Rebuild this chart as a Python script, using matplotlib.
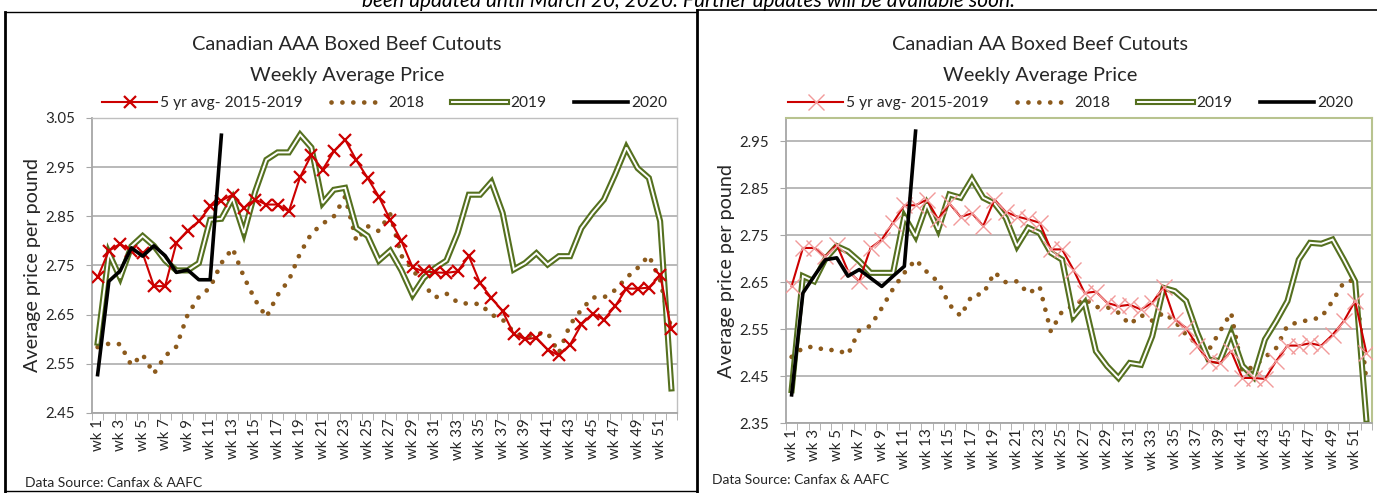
import matplotlib
matplotlib.use("Agg")
import matplotlib.pyplot as plt
from matplotlib.lines import Line2D
from matplotlib.legend_handler import HandlerTuple
import numpy as np

# ---------------------------
# Data
# ---------------------------
weeks = np.arange(1, 53)
week_labels = [f"wk {w}" for w in range(1, 53, 2)]

# Canadian AAA
aaa_avg5 = [2.726, 2.78, 2.794, 2.78, 2.775, 2.708, 2.708, 2.796, 2.821, 2.84,
            2.87, 2.882, 2.894, 2.867, 2.884, 2.874, 2.874, 2.86, 2.93, 2.975,
            2.945, 2.982, 3.006, 2.964, 2.928, 2.89, 2.843, 2.80, 2.746, 2.738,
            2.736, 2.735, 2.738, 2.769, 2.714, 2.684, 2.657, 2.61, 2.60, 2.603,
            2.579, 2.567, 2.589, 2.63, 2.652, 2.64, 2.667, 2.703, 2.703, 2.705,
            2.73, 2.62]
aaa_2018 = [2.584, 2.591, 2.59, 2.547, 2.569, 2.53, 2.566, 2.585, 2.65, 2.686,
            2.705, 2.755, 2.785, 2.727, 2.68, 2.645, 2.69, 2.72, 2.775, 2.815,
            2.835, 2.85, 2.89, 2.80, 2.83, 2.82, 2.855, 2.77, 2.742, 2.71,
            2.685, 2.693, 2.675, 2.672, 2.672, 2.65, 2.64, 2.614, 2.604, 2.611,
            2.613, 2.572, 2.63, 2.66, 2.685, 2.685, 2.70, 2.725, 2.745, 2.77,
            2.72, 2.62]
aaa_2019 = [2.593, 2.775, 2.725, 2.789, 2.81, 2.79, 2.76, 2.74, 2.74, 2.755,
            2.843, 2.845, 2.887, 2.816, 2.90, 2.965, 2.98, 2.98, 3.016, 2.99,
            2.877, 2.904, 2.908, 2.826, 2.81, 2.76, 2.78, 2.74, 2.69, 2.725,
            2.745, 2.76, 2.816, 2.894, 2.894, 2.92, 2.857, 2.742, 2.755, 2.775,
            2.752, 2.769, 2.769, 2.826, 2.857, 2.884, 2.935, 2.99, 2.948, 2.928,
            2.84, 2.50]
aaa_2020 = [2.528, 2.718, 2.739, 2.786, 2.769, 2.79, 2.77, 2.736, 2.741, 2.721,
            2.721, 3.015]

# Canadian AA
aa_avg5 = [2.642, 2.723, 2.723, 2.705, 2.73, 2.674, 2.652, 2.723, 2.741, 2.777,
           2.814, 2.814, 2.826, 2.784, 2.818, 2.789, 2.797, 2.77, 2.826, 2.80,
           2.79, 2.784, 2.777, 2.72, 2.72, 2.677, 2.627, 2.63, 2.606, 2.599,
           2.602, 2.592, 2.606, 2.64, 2.57, 2.553, 2.514, 2.482, 2.477, 2.503,
           2.446, 2.446, 2.444, 2.482, 2.515, 2.515, 2.52, 2.515, 2.538, 2.567,
           2.61, 2.50]
aa_2018 = [2.491, 2.51, 2.513, 2.505, 2.506, 2.496, 2.548, 2.557, 2.595, 2.636,
           2.67, 2.698, 2.672, 2.651, 2.602, 2.578, 2.622, 2.625, 2.671, 2.65,
           2.652, 2.626, 2.641, 2.545, 2.588, 2.60, 2.615, 2.597, 2.597, 2.585,
           2.56, 2.58, 2.568, 2.585, 2.567, 2.538, 2.518, 2.505, 2.545, 2.585,
           2.46, 2.47, 2.49, 2.51, 2.558, 2.565, 2.57, 2.575, 2.61, 2.65,
           2.655, 2.44]
aa_2019 = [2.42, 2.663, 2.652, 2.70, 2.727, 2.716, 2.695, 2.67, 2.67, 2.67,
           2.79, 2.748, 2.816, 2.762, 2.837, 2.83, 2.87, 2.83, 2.818, 2.787,
           2.727, 2.766, 2.755, 2.713, 2.698, 2.577, 2.606, 2.503, 2.471, 2.446,
           2.478, 2.474, 2.535, 2.638, 2.631, 2.61, 2.542, 2.485, 2.482, 2.542,
           2.472, 2.448, 2.528, 2.567, 2.61, 2.698, 2.734, 2.732, 2.741, 2.698,
           2.652, 2.357]
aa_2020 = [2.41, 2.627, 2.663, 2.698, 2.702, 2.663, 2.677, 2.659, 2.641, 2.663,
           2.684, 2.972]

aaa_yticks = [2.45, 2.55, 2.65, 2.75, 2.85, 2.95, 3.05]
aa_yticks = [2.35, 2.45, 2.55, 2.65, 2.75, 2.85, 2.95]

# ---------------------------
# Styles
# ---------------------------
plt.rcParams.update({
    "font.family": ["Lato", "DejaVu Sans"],
    "font.size": 10.5,
})

RED = "#cc0000"
BROWN = "#8c5a1c"
OLIVE = "#55701f"
TXT = "#262626"
GRID = "#a6a6a6"

W, H = 1377, 493
fig = plt.figure(figsize=(W / 100, H / 100), dpi=100)
fig.patch.set_facecolor("white")


def fx(px):
    return px / W


def fy(py):
    return 1 - py / H


def panel(ax, avg5, d2018, d2019, d2020, yticks, ylim, right=False):
    ax.grid(axis="y", color=GRID, linewidth=1.1, zorder=0)
    ax.set_axisbelow(True)

    if right:
        l_avg, = ax.plot(weeks, avg5, color=RED, lw=1.5, marker="x",
                         markersize=11, mec="#f29a9a", mew=1.0, zorder=3)
    else:
        l_avg, = ax.plot(weeks, avg5, color=RED, lw=1.5, marker="x",
                         markersize=8, mec=RED, mew=1.6, zorder=3)
    l_18, = ax.plot(weeks, d2018, color=BROWN, lw=3.4,
                    linestyle=(0, (0.01, 2.3)), dash_capstyle="round", zorder=2)
    g1, = ax.plot(weeks, d2019, color=OLIVE, lw=4.4, solid_joinstyle="miter", zorder=2)
    g2, = ax.plot(weeks, d2019, color="white", lw=1.4, solid_joinstyle="miter", zorder=2)
    l_20, = ax.plot(weeks[:len(d2020)], d2020, color="black", lw=2.6, zorder=4)

    ax.set_xlim(0.5, 52.5)
    ax.set_ylim(*ylim)
    ax.set_yticks(yticks)
    ax.set_yticklabels([f"{v:.2f}" for v in yticks])
    ax.set_xticks(np.arange(1, 53, 2))
    ax.set_xticklabels(week_labels, rotation=90)
    ax.set_xticks(np.arange(0.5, 53, 1), minor=True)
    ax.tick_params(axis="x", which="major", length=0, pad=4, labelsize=10.8, colors=TXT)
    ax.tick_params(axis="x", which="minor", length=5, color=GRID, direction="out")
    ax.tick_params(axis="y", length=4, color=GRID, labelsize=10.8, colors=TXT, pad=8)

    for s in ["left", "bottom"]:
        ax.spines[s].set_color(GRID)
        ax.spines[s].set_linewidth(1.3)
    if right:
        for s in ["top", "right"]:
            ax.spines[s].set_color("#b8c38f")
            ax.spines[s].set_linewidth(1.5)
    else:
        for s in ["top", "right"]:
            ax.spines[s].set_color("#bfbfbf")
            ax.spines[s].set_linewidth(1.0)

    ax.set_ylabel("Average price per pound", fontsize=14.2, color=TXT, labelpad=3)
    return [l_avg, l_18, (g1, g2), l_20]


labels = ["5 yr avg- 2015-2019", "2018", "2019", "2020"]
leg_kw = dict(loc="center", ncol=4, frameon=False, handlelength=3.5,
              handletextpad=0.2, columnspacing=1.8, fontsize=11.2,
              handler_map={tuple: HandlerTuple(ndivide=1)}, labelcolor=TXT)

# Left panel: AAA
ax1 = fig.add_axes([fx(92), fy(413), fx(677 - 92), (413 - 118) / H])
h1 = panel(ax1, aaa_avg5, aaa_2018, aaa_2019, aaa_2020, aaa_yticks, (2.45, 3.05))
fig.text(fx(347), fy(45), "Canadian AAA Boxed Beef Cutouts", fontsize=14.4,
         color=TXT, ha="center", va="center")
fig.text(fx(347), fy(75), "Weekly Average Price", fontsize=14.4,
         color=TXT, ha="center", va="center")
fig.legend(h1, labels, bbox_to_anchor=(fx(385), fy(103)), **leg_kw)
fig.text(fx(25), fy(483), "Data Source: Canfax & AAFC", fontsize=10,
         color=TXT, va="center", ha="left")

# Right panel: AA
ax2 = fig.add_axes([fx(786), fy(423), fx(1372 - 786), (423 - 118) / H])
h2 = panel(ax2, aa_avg5, aa_2018, aa_2019, aa_2020, aa_yticks, (2.35, 3.0), right=True)
fig.text(fx(1040), fy(45), "Canadian AA Boxed Beef Cutouts", fontsize=14.4,
         color=TXT, ha="center", va="center")
fig.text(fx(1040), fy(75), "Weekly Average Price", fontsize=14.4,
         color=TXT, ha="center", va="center")
fig.legend(h2, labels, bbox_to_anchor=(fx(1071), fy(103)), **leg_kw)
fig.text(fx(712), fy(480), "Data Source: Canfax & AAFC", fontsize=10,
         color=TXT, va="center", ha="left")

# Panel frames
fig.add_artist(Line2D([fx(5), fx(5)], [fy(12), fy(493)], color="black", lw=2.0))
fig.add_artist(Line2D([fx(5), fx(697)], [fy(12), fy(12)], color="black", lw=1.0))
fig.add_artist(Line2D([fx(697), fx(697)], [fy(10), fy(493)], color="black", lw=2.0))
fig.add_artist(Line2D([fx(697), fx(1377)], [fy(10), fy(10)], color="black", lw=1.2))
fig.add_artist(Line2D([fx(5), fx(697)], [fy(491), fy(491)], color="black", lw=1.0))

# Note at the top, cut by the image edge as in the source screenshot
fig.text(fx(688), fy(1), "been updated until March 20, 2020. Further updates will be available soon.",
         fontsize=15, style="italic", ha="center", va="center", color="black")

fig.savefig("out.png", dpi=100, facecolor="white")
